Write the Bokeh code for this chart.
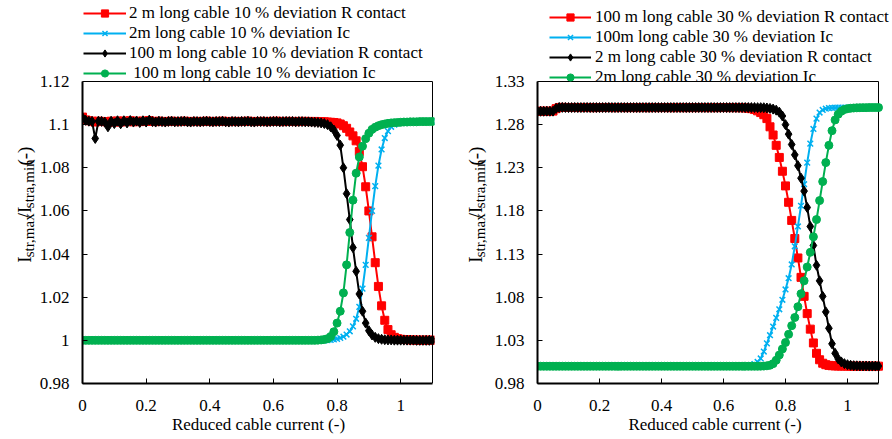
from bokeh.plotting import figure
from bokeh.models import Range1d, FixedTicker, Legend, LegendItem, ColumnDataSource
from bokeh.layouts import row
from bokeh.core.properties import value
from bokeh.embed import file_html
from bokeh.resources import INLINE
import math

# ---------------- data ----------------
X = [0.00, 0.01, 0.02, 0.03, 0.04, 0.05, 0.06, 0.07, 0.08, 0.09,
     0.10, 0.11, 0.12, 0.13, 0.14, 0.15, 0.16, 0.17, 0.18, 0.19,
     0.20, 0.21, 0.22, 0.23, 0.24, 0.25, 0.26, 0.27, 0.28, 0.29,
     0.30, 0.31, 0.32, 0.33, 0.34, 0.35, 0.36, 0.37, 0.38, 0.39,
     0.40, 0.41, 0.42, 0.43, 0.44, 0.45, 0.46, 0.47, 0.48, 0.49,
     0.50, 0.51, 0.52, 0.53, 0.54, 0.55, 0.56, 0.57, 0.58, 0.59,
     0.60, 0.61, 0.62, 0.63, 0.64, 0.65, 0.66, 0.67, 0.68, 0.69,
     0.70, 0.71, 0.72, 0.73, 0.74, 0.75, 0.76, 0.77, 0.78, 0.79,
     0.80, 0.81, 0.82, 0.83, 0.84, 0.85, 0.86, 0.87, 0.88, 0.89,
     0.90, 0.91, 0.92, 0.93, 0.94, 0.95, 0.96, 0.97, 0.98, 0.99,
     1.00, 1.01, 1.02, 1.03, 1.04, 1.05, 1.06, 1.07, 1.08, 1.09, 1.10]

# left chart: 10 % deviation
L_RED = [1.1035, 1.1022, 1.1018, 1.1016, 1.1012, 1.1016, 1.1015, 1.1014, 1.1010, 1.1016,
         1.1012, 1.1017, 1.1012, 1.1017, 1.1014, 1.1018, 1.1013, 1.1016, 1.1014, 1.1017,
         1.1015, 1.1019, 1.1015, 1.1014, 1.1016, 1.1015, 1.1014, 1.1015, 1.1016, 1.1015,
         1.1014, 1.1015, 1.1016, 1.1015, 1.1014, 1.1015, 1.1015, 1.1014, 1.1015, 1.1016,
         1.1015, 1.1014, 1.1015, 1.1015, 1.1016, 1.1015, 1.1014, 1.1015, 1.1015, 1.1014,
         1.1015, 1.1015, 1.1016, 1.1015, 1.1014, 1.1015, 1.1015, 1.1015, 1.1014, 1.1015,
         1.1015, 1.1016, 1.1015, 1.1014, 1.1015, 1.1015, 1.1015, 1.1014, 1.1015, 1.1015,
         1.1015, 1.1015, 1.1014, 1.1015, 1.1014, 1.1014, 1.1013, 1.1012, 1.1011, 1.1010,
         1.1008, 1.1003, 1.0995, 1.0983, 1.0966, 1.0948, 1.0925, 1.0875, 1.0805, 1.0712,
         1.0600, 1.0480, 1.0360, 1.0250, 1.0160, 1.0093, 1.0050, 1.0026, 1.0014, 1.0008,
         1.0005, 1.0004, 1.0003, 1.0002, 1.0002, 1.0001, 1.0001, 1.0001, 1.0001, 1.0001, 1.0001]

L_CYAN = [1.0000, 1.0000, 1.0000, 1.0000, 1.0000, 1.0000, 1.0000, 1.0000, 1.0000, 1.0000,
          1.0000, 1.0000, 1.0000, 1.0000, 1.0000, 1.0000, 1.0000, 1.0000, 1.0000, 1.0000,
          1.0000, 1.0000, 1.0000, 1.0000, 1.0000, 1.0000, 1.0000, 1.0000, 1.0000, 1.0000,
          1.0000, 1.0000, 1.0000, 1.0000, 1.0000, 1.0000, 1.0000, 1.0000, 1.0000, 1.0000,
          1.0000, 1.0000, 1.0000, 1.0000, 1.0000, 1.0000, 1.0000, 1.0000, 1.0000, 1.0000,
          1.0000, 1.0000, 1.0000, 1.0000, 1.0000, 1.0000, 1.0000, 1.0000, 1.0000, 1.0000,
          1.0000, 1.0000, 1.0000, 1.0000, 1.0000, 1.0000, 1.0000, 1.0000, 1.0000, 1.0000,
          1.0000, 1.0000, 1.0000, 1.0000, 1.0000, 1.0000, 1.0000, 1.0001, 1.0002, 1.0004,
          1.0007, 1.0011, 1.0017, 1.0027, 1.0042, 1.0065, 1.0100, 1.0155, 1.0240, 1.0350,
          1.0475, 1.0600, 1.0715, 1.0810, 1.0885, 1.0938, 1.0970, 1.0990, 1.1000, 1.1006,
          1.1009, 1.1011, 1.1012, 1.1013, 1.1013, 1.1014, 1.1014, 1.1014, 1.1015, 1.1015, 1.1015]

L_BLACK = [1.1032, 1.1020, 1.1016, 1.1015, 1.0936, 1.1016, 1.1015, 1.1012, 1.0990, 1.1016,
           1.1005, 1.1018, 1.1004, 1.1018, 1.1008, 1.1019, 1.1012, 1.1017, 1.1010, 1.1018,
           1.1012, 1.1021, 1.1014, 1.1012, 1.1016, 1.1014, 1.1012, 1.1015, 1.1016, 1.1013,
           1.1014, 1.1015, 1.1016, 1.1013, 1.1012, 1.1015, 1.1014, 1.1013, 1.1015, 1.1016,
           1.1014, 1.1013, 1.1015, 1.1014, 1.1016, 1.1013, 1.1012, 1.1015, 1.1014, 1.1013,
           1.1015, 1.1014, 1.1016, 1.1013, 1.1012, 1.1015, 1.1014, 1.1015, 1.1013, 1.1014,
           1.1015, 1.1015, 1.1013, 1.1014, 1.1015, 1.1014, 1.1015, 1.1013, 1.1014, 1.1014,
           1.1013, 1.1013, 1.1012, 1.1011, 1.1010, 1.1008, 1.1005, 1.1000, 1.0990, 1.0975,
           1.0950, 1.0905, 1.0800, 1.0680, 1.0560, 1.0430, 1.0320, 1.0215, 1.0135, 1.0080,
           1.0045, 1.0025, 1.0014, 1.0008, 1.0005, 1.0003, 1.0002, 1.0002, 1.0001, 1.0001,
           1.0001, 1.0001, 1.0001, 1.0001, 1.0001, 1.0000, 1.0000, 1.0000, 1.0000, 1.0000, 1.0000]

L_GREEN = [1.0000, 1.0000, 1.0000, 1.0000, 1.0000, 1.0000, 1.0000, 1.0000, 1.0000, 1.0000,
           1.0000, 1.0000, 1.0000, 1.0000, 1.0000, 1.0000, 1.0000, 1.0000, 1.0000, 1.0000,
           1.0000, 1.0000, 1.0000, 1.0000, 1.0000, 1.0000, 1.0000, 1.0000, 1.0000, 1.0000,
           1.0000, 1.0000, 1.0000, 1.0000, 1.0000, 1.0000, 1.0000, 1.0000, 1.0000, 1.0000,
           1.0000, 1.0000, 1.0000, 1.0000, 1.0000, 1.0000, 1.0000, 1.0000, 1.0000, 1.0000,
           1.0000, 1.0000, 1.0000, 1.0000, 1.0000, 1.0000, 1.0000, 1.0000, 1.0000, 1.0000,
           1.0000, 1.0000, 1.0000, 1.0000, 1.0000, 1.0000, 1.0000, 1.0000, 1.0000, 1.0000,
           1.0000, 1.0000, 1.0000, 1.0000, 1.0001, 1.0002, 1.0004, 1.0008, 1.0018, 1.0040,
           1.0080, 1.0135, 1.0220, 1.0350, 1.0500, 1.0650, 1.0775, 1.0850, 1.0900, 1.0935,
           1.0960, 1.0978, 1.0988, 1.0995, 1.1000, 1.1003, 1.1006, 1.1008, 1.1009, 1.1010,
           1.1011, 1.1012, 1.1012, 1.1013, 1.1013, 1.1013, 1.1014, 1.1014, 1.1014, 1.1014, 1.1015]

# right chart: 30 % deviation
R_RED = [1.2955, 1.2955, 1.2956, 1.2955, 1.2956, 1.2957, 1.2985, 1.2999, 1.3000, 1.2999,
         1.2999, 1.2998, 1.2999, 1.2998, 1.2998, 1.2999, 1.2998, 1.2998, 1.2997, 1.2998,
         1.2998, 1.2998, 1.2999, 1.2998, 1.2998, 1.2997, 1.2998, 1.2998, 1.2998, 1.2997,
         1.2998, 1.2998, 1.2997, 1.2998, 1.2998, 1.2998, 1.2997, 1.2998, 1.2998, 1.2997,
         1.2998, 1.2998, 1.2997, 1.2998, 1.2997, 1.2998, 1.2998, 1.2997, 1.2998, 1.2997,
         1.2998, 1.2997, 1.2998, 1.2998, 1.2997, 1.2998, 1.2997, 1.2998, 1.2997, 1.2998,
         1.2998, 1.2998, 1.2997, 1.2998, 1.2997, 1.2997, 1.2996, 1.2994, 1.2990, 1.2985,
         1.2975, 1.2960, 1.2940, 1.2915, 1.2870, 1.2775, 1.2680, 1.2560, 1.2420, 1.2260,
         1.2090, 1.1900, 1.1690, 1.1480, 1.1255, 1.1030, 1.0810, 1.0610, 1.0430, 1.0270,
         1.0150, 1.0075, 1.0035, 1.0018, 1.0010, 1.0006, 1.0004, 1.0003, 1.0002, 1.0002,
         1.0002, 1.0001, 1.0001, 1.0001, 1.0001, 1.0001, 1.0001, 1.0001, 1.0001, 1.0001, 1.0001]

R_CYAN = [1.0000, 1.0000, 1.0000, 1.0000, 1.0000, 1.0000, 1.0000, 1.0000, 1.0000, 1.0000,
          1.0000, 1.0000, 1.0000, 1.0000, 1.0000, 1.0000, 1.0000, 1.0000, 1.0000, 1.0000,
          1.0000, 1.0000, 1.0000, 1.0000, 1.0000, 1.0000, 1.0000, 1.0000, 1.0000, 1.0000,
          1.0000, 1.0000, 1.0000, 1.0000, 1.0000, 1.0000, 1.0000, 1.0000, 1.0000, 1.0000,
          1.0000, 1.0000, 1.0000, 1.0000, 1.0000, 1.0000, 1.0000, 1.0000, 1.0000, 1.0000,
          1.0000, 1.0000, 1.0000, 1.0000, 1.0000, 1.0000, 1.0000, 1.0000, 1.0000, 1.0000,
          1.0000, 1.0000, 1.0000, 1.0000, 1.0000, 1.0000, 1.0001, 1.0002, 1.0005, 1.0012,
          1.0025, 1.0050, 1.0090, 1.0170, 1.0265, 1.0360, 1.0460, 1.0560, 1.0660, 1.0770,
          1.0890, 1.1020, 1.1180, 1.1390, 1.1620, 1.1860, 1.2110, 1.2360, 1.2580, 1.2750,
          1.2870, 1.2940, 1.2970, 1.2985, 1.2992, 1.2995, 1.2996, 1.2997, 1.2997, 1.2998,
          1.2998, 1.2998, 1.2998, 1.2998, 1.2998, 1.2998, 1.2998, 1.2998, 1.2998, 1.2998, 1.2998]

R_BLACK = [1.2954, 1.2955, 1.2955, 1.2956, 1.2955, 1.2956, 1.2988, 1.2999, 1.3000, 1.2999,
           1.2998, 1.2998, 1.2999, 1.2998, 1.2998, 1.2998, 1.2999, 1.2998, 1.2998, 1.2998,
           1.2998, 1.2998, 1.2998, 1.2999, 1.2998, 1.2998, 1.2998, 1.2998, 1.2998, 1.2998,
           1.2998, 1.2998, 1.2998, 1.2998, 1.2998, 1.2998, 1.2998, 1.2998, 1.2998, 1.2998,
           1.2998, 1.2998, 1.2998, 1.2998, 1.2998, 1.2998, 1.2998, 1.2998, 1.2998, 1.2998,
           1.2998, 1.2998, 1.2998, 1.2998, 1.2998, 1.2998, 1.2998, 1.2998, 1.2998, 1.2998,
           1.2998, 1.2998, 1.2998, 1.2998, 1.2998, 1.2998, 1.2998, 1.2998, 1.2998, 1.2998,
           1.2998, 1.2997, 1.2997, 1.2996, 1.2993, 1.2988, 1.2980, 1.2968, 1.2945, 1.2900,
           1.2800, 1.2690, 1.2570, 1.2450, 1.2325, 1.2180, 1.2030, 1.1840, 1.1620, 1.1400,
           1.1170, 1.0990, 1.0810, 1.0630, 1.0440, 1.0260, 1.0150, 1.0085, 1.0050, 1.0030,
           1.0018, 1.0011, 1.0007, 1.0005, 1.0004, 1.0003, 1.0003, 1.0002, 1.0002, 1.0002, 1.0002]

R_GREEN = [1.0000, 1.0000, 1.0000, 1.0000, 1.0000, 1.0000, 1.0000, 1.0000, 1.0000, 1.0000,
           1.0000, 1.0000, 1.0000, 1.0000, 1.0000, 1.0000, 1.0000, 1.0000, 1.0000, 1.0000,
           1.0000, 1.0000, 1.0000, 1.0000, 1.0000, 1.0000, 1.0000, 1.0000, 1.0000, 1.0000,
           1.0000, 1.0000, 1.0000, 1.0000, 1.0000, 1.0000, 1.0000, 1.0000, 1.0000, 1.0000,
           1.0000, 1.0000, 1.0000, 1.0000, 1.0000, 1.0000, 1.0000, 1.0000, 1.0000, 1.0000,
           1.0000, 1.0000, 1.0000, 1.0000, 1.0000, 1.0000, 1.0000, 1.0000, 1.0000, 1.0000,
           1.0000, 1.0000, 1.0000, 1.0000, 1.0000, 1.0000, 1.0000, 1.0000, 1.0000, 1.0000,
           1.0000, 1.0000, 1.0001, 1.0002, 1.0005, 1.0012, 1.0030, 1.0070, 1.0130, 1.0200,
           1.0275, 1.0370, 1.0470, 1.0565, 1.0690, 1.0840, 1.0990, 1.1150, 1.1320, 1.1500,
           1.1700, 1.1920, 1.2140, 1.2360, 1.2560, 1.2730, 1.2855, 1.2920, 1.2955, 1.2975,
           1.2985, 1.2990, 1.2993, 1.2995, 1.2996, 1.2997, 1.2997, 1.2998, 1.2998, 1.2998, 1.2998]

LEFT_NAMES = ["2 m long cable 10 % deviation R contact",
              "2m long cable 10 % deviation Ic",
              "100 m long cable 10 % deviation R contact",
              " 100 m long cable 10 % deviation Ic"]
RIGHT_NAMES = ["100 m long cable 30 % deviation R contact",
               "100m long cable 30 % deviation Ic",
               "2 m long cable 30 % deviation R contact",
               "2m long cable 30 % deviation Ic"]

X_MAX = 1.1
X_TICKS = [0, 0.2, 0.4, 0.6, 0.8, 1.0]
X_TICK_LABELS = ["0", "0.2", "0.4", "0.6", "0.8", "1"]
L_YTICKS = [0.98, 1.0, 1.02, 1.04, 1.06, 1.08, 1.1, 1.12]
L_YTICK_LABELS = ["0.98", "1", "1.02", "1.04", "1.06", "1.08", "1.1", "1.12"]
R_YTICKS = [0.98, 1.03, 1.08, 1.13, 1.18, 1.23, 1.28, 1.33]
R_YTICK_LABELS = ["0.98", "1.03", "1.08", "1.13", "1.18", "1.23", "1.28", "1.33"]
X_TITLE = "Reduced cable current (-)"
Y_PIECES = [("I", "main"), ("str,max", "sub"), ("/I", "main"), ("stra,min", "sub"), (" (-)", "main")]

# ---------------- styling / layout ----------------
FONT = "Liberation Serif"
RED, CYAN, BLACK, GREEN = "#FF0000", "#00B0F0", "#000000", "#00B050"
STYLES = [(RED, "square", 8), (CYAN, "x", 8), (BLACK, "diamond", 10), (GREEN, "circle", 8)]

ADV = {'I': 333, 's': 389, 't': 278, 'r': 333, ',': 250, 'm': 778, 'a': 444, 'x': 500,
       '/': 278, 'i': 278, 'n': 500, ' ': 250, '(': 333, '-': 333, ')': 333}
MAIN_PX, SUB_PX, SUB_SHIFT = 19, 15, 4.5

H = 438
BOTTOM = 55
BOX_TOP_PX = 81          # page y of the top of the plot box
FRAME_H = H - BOTTOM     # frame runs from page y 0 down to the x axis


def ylabel_fig(width, base_x, start_y):
    f = figure(width=width, height=H, output_backend="svg", toolbar_location=None,
               x_range=Range1d(0, width), y_range=Range1d(0, H),
               min_border=0, x_axis_location=None, y_axis_location=None)
    f.grid.grid_line_color = None
    f.outline_line_color = None
    f.background_fill_color = "white"
    f.border_fill_color = "white"
    xs, ys, ts, ss = [], [], [], []
    y = H - start_y
    for txt, kind in Y_PIECES:
        size = MAIN_PX if kind == "main" else SUB_PX
        xs.append(base_x + (0 if kind == "main" else SUB_SHIFT))
        ys.append(y)
        ts.append(txt)
        ss.append(f"{size}px")
        y += sum(ADV[c] for c in txt) * size / 1000.0
    src = ColumnDataSource(dict(x=xs, y=ys, t=ts, s=ss))
    f.text(x="x", y="y", text="t", source=src, angle=math.pi / 2,
           text_font=value(FONT), text_font_size="s", text_color="black",
           text_baseline="alphabetic", text_align="left")
    return f


def make_plot(width, border_left, border_right, pad_right, box_w,
              ylo, yticks, ylabels, series, names, legend_loc, glyph_w, standoff):
    """pad_right: pixels of frame right of the plot box (room for legend text)."""
    yhi = yticks[-1]
    box_h = FRAME_H - BOX_TOP_PX
    y_end = yhi + (yhi - ylo) * BOX_TOP_PX / box_h   # room above the box for the legend
    x_end = X_MAX + pad_right * X_MAX / box_w
    p = figure(width=width, height=H, output_backend="svg", toolbar_location=None,
               x_range=Range1d(0, x_end), y_range=Range1d(ylo, y_end),
               min_border_left=border_left, min_border_right=border_right,
               min_border_top=0, min_border_bottom=BOTTOM)
    p.grid.grid_line_color = None
    p.outline_line_color = None
    p.background_fill_color = "white"
    p.border_fill_color = "white"

    for ax in (p.xaxis[0], p.yaxis[0]):
        ax.axis_line_width = 2
        ax.axis_line_color = "black"
        ax.major_tick_in = 5
        ax.major_tick_out = 0
        ax.minor_tick_in = 0
        ax.minor_tick_out = 0
        ax.major_tick_line_color = "black"
        ax.major_label_text_font = FONT
        ax.major_label_text_font_size = "17px"
        ax.major_label_text_color = "black"
    p.xaxis.ticker = FixedTicker(ticks=X_TICKS)
    p.xaxis.major_label_overrides = dict(zip(X_TICKS, X_TICK_LABELS))
    p.xaxis.major_label_standoff = 16
    p.xaxis.axis_label = X_TITLE
    p.xaxis.axis_label_text_font = FONT
    p.xaxis.axis_label_text_font_size = "17px"
    p.xaxis.axis_label_text_font_style = "normal"
    p.xaxis.axis_label_text_color = "black"
    p.xaxis.axis_label_standoff = 1
    p.xaxis.bounds = (0, X_MAX)
    p.yaxis.ticker = FixedTicker(ticks=yticks)
    p.yaxis.major_label_overrides = dict(zip(yticks, ylabels))
    p.yaxis.major_label_standoff = 13
    p.yaxis.bounds = (ylo, yhi)

    # thin top and right sides of the plot box
    p.segment(x0=[0, X_MAX], y0=[yhi, ylo], x1=[X_MAX, X_MAX], y1=[yhi, yhi],
              line_color="black", line_width=1)

    items = []
    for ys, name, (col, marker, size) in zip(series, names, STYLES):
        ln = p.line(X, ys, line_color=col, line_width=2)
        if marker == "x":
            sc = p.scatter(X, ys, marker="x", size=size, line_color=col, line_width=1.5)
        else:
            sc = p.scatter(X, ys, marker=marker, size=size, fill_color=col, line_color=col)
        items.append(LegendItem(label=name, renderers=[ln, sc]))

    leg = Legend(items=items, location=legend_loc, orientation="vertical",
                 background_fill_alpha=0, border_line_alpha=0, padding=0, margin=0,
                 spacing=0, glyph_width=glyph_w, glyph_height=18, label_height=18,
                 label_standoff=standoff, label_text_font=FONT,
                 label_text_font_size="17px", label_text_color="black")
    p.add_layout(leg)
    return p


# page x: ylabel1 0-36 | plot1 36-460 | ylabel2 460-490 | plot2 490-892
# left box 81-432, right box 537-878
y1 = ylabel_fig(36, 24, 300)
p1 = make_plot(424, 45, 26, 2, 351, 0.98, L_YTICKS, L_YTICK_LABELS,
               [L_RED, L_CYAN, L_BLACK, L_GREEN], LEFT_NAMES,
               (1, FRAME_H - 83), 43, 3)
y2 = ylabel_fig(30, 15, 300)
p2 = make_plot(402, 47, 0, 14, 341, 0.98, R_YTICKS, R_YTICK_LABELS,
               [R_RED, R_CYAN, R_BLACK, R_GREEN], RIGHT_NAMES,
               (12, FRAME_H - 87), 42, 4)

layout = row(y1, p1, y2, p2)
open("out.html", "w").write(file_html(layout, INLINE))
